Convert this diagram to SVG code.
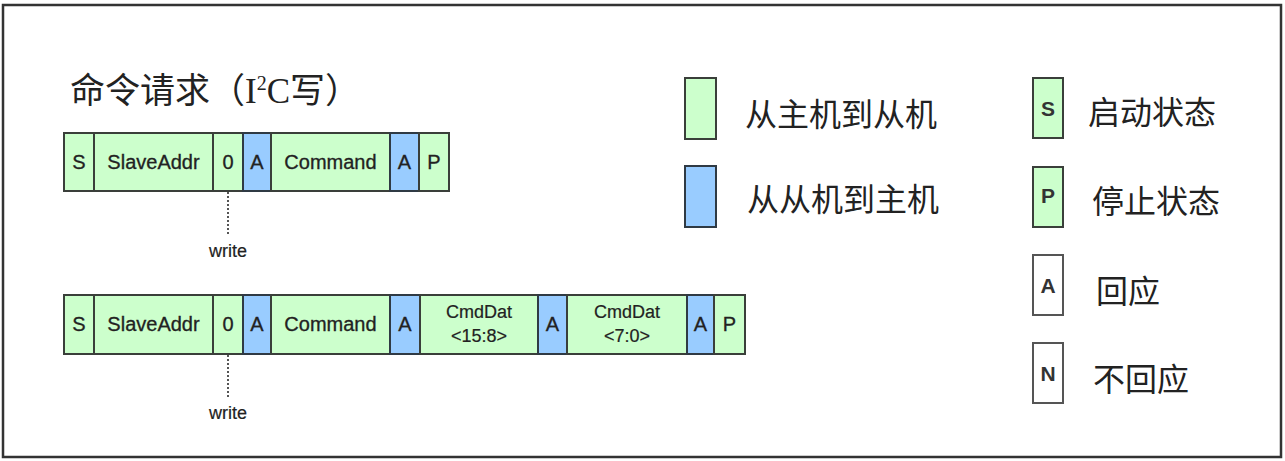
<svg xmlns="http://www.w3.org/2000/svg" width="1285" height="461" viewBox="0 0 1285 461">
<style>
.g{fill:#ccffcc;stroke:#3a3f3a;stroke-width:2}
.b{fill:#99ccff;stroke:#2f3a44;stroke-width:2}
.w{fill:#ffffff;stroke:#555;stroke-width:2}
.t{font-family:"Liberation Sans",Arial,sans-serif;font-size:20px;fill:#222;text-anchor:middle;stroke:#222;stroke-width:0.3}
.s{font-family:"Liberation Sans",Arial,sans-serif;font-size:18px;fill:#222;text-anchor:middle;stroke:#222;stroke-width:0.2}
.k{font-family:"Liberation Sans",Arial,sans-serif;font-size:21px;font-weight:bold;fill:#333;text-anchor:middle}
.cjk{font-family:"Noto Sans CJK SC",sans-serif;font-size:32px;fill:#222}
.ttl{font-family:"Noto Sans CJK SC",sans-serif;fill:#222}
.dot{stroke:#555;stroke-width:2;stroke-dasharray:2,2;fill:none}
</style>
<rect x="3" y="5" width="1278" height="452" fill="#fff" stroke="#333" stroke-width="2.5"/>
<text x="70" y="103" class="ttl" style="font-size:35px">命令请求（<tspan style="font-family:'Liberation Serif',serif">I</tspan><tspan style="font-family:'Liberation Serif',serif;font-size:20px" dy="-13">2</tspan><tspan style="font-family:'Liberation Serif',serif" dy="13">C</tspan>写）</text>
<g id="row1">
<rect class="g" x="64" y="133" width="30" height="58"/><text class="t" x="79" y="169">S</text>
<rect class="g" x="94" y="133" width="119" height="58"/><text class="t" x="153.5" y="169">SlaveAddr</text>
<rect class="g" x="213" y="133" width="30" height="58"/><text class="t" x="228" y="169">0</text>
<rect class="b" x="243" y="133" width="28" height="58"/><text class="t" x="257" y="169">A</text>
<rect class="g" x="271" y="133" width="119" height="58"/><text class="t" x="330.5" y="169">Command</text>
<rect class="b" x="390" y="133" width="29" height="58"/><text class="t" x="404.5" y="169">A</text>
<rect class="g" x="419" y="133" width="30" height="58"/><text class="t" x="434" y="169">P</text>
</g>
<g id="row2">
<rect class="g" x="64" y="295" width="30" height="59"/><text class="t" x="79" y="331">S</text>
<rect class="g" x="94" y="295" width="119" height="59"/><text class="t" x="153.5" y="331">SlaveAddr</text>
<rect class="g" x="213" y="295" width="30" height="59"/><text class="t" x="228" y="331">0</text>
<rect class="b" x="243" y="295" width="28" height="59"/><text class="t" x="257" y="331">A</text>
<rect class="g" x="271" y="295" width="119" height="59"/><text class="t" x="330.5" y="331">Command</text>
<rect class="b" x="390" y="295" width="30" height="59"/><text class="t" x="405" y="331">A</text>
<rect class="g" x="420" y="295" width="118" height="59"/><text class="s" x="479" y="318">CmdDat</text><text class="s" x="479" y="342">&lt;15:8&gt;</text>
<rect class="b" x="538" y="295" width="29" height="59"/><text class="t" x="552.5" y="331">A</text>
<rect class="g" x="567" y="295" width="120" height="59"/><text class="s" x="627" y="318">CmdDat</text><text class="s" x="627" y="342">&lt;7:0&gt;</text>
<rect class="b" x="687" y="295" width="27" height="59"/><text class="t" x="700.5" y="331">A</text>
<rect class="g" x="714" y="295" width="31" height="59"/><text class="t" x="729.5" y="331">P</text>
</g>
<g id="connectors">
<line class="dot" x1="228" y1="192" x2="228" y2="235"/>
<line class="dot" x1="228" y1="355" x2="228" y2="397"/>
</g>
<text class="s" x="228" y="257">write</text>
<text class="s" x="228" y="419">write</text>
<g id="legend-m2s"><rect class="g" x="685" y="78" width="31" height="61"/><text class="cjk" x="745" y="126">从主机到从机</text></g>
<g id="legend-s2m"><rect class="b" x="685" y="166" width="31" height="61"/><text class="cjk" x="747" y="211">从从机到主机</text></g>
<g id="legend-s"><rect class="g" x="1033" y="78" width="30" height="60"/><text class="k" x="1048" y="116">S</text><text class="cjk" x="1088" y="124">启动状态</text></g>
<g id="legend-p"><rect class="g" x="1033" y="167" width="30" height="60"/><text class="k" x="1048" y="203">P</text><text class="cjk" x="1092" y="213">停止状态</text></g>
<g id="legend-a"><rect class="w" x="1033" y="255" width="30" height="60"/><text class="k" x="1048" y="293">A</text><text class="cjk" x="1096" y="303">回应</text></g>
<g id="legend-n"><rect class="w" x="1033" y="343" width="30" height="60"/><text class="k" x="1048" y="381">N</text><text class="cjk" x="1093" y="391">不回应</text></g>
</svg>
